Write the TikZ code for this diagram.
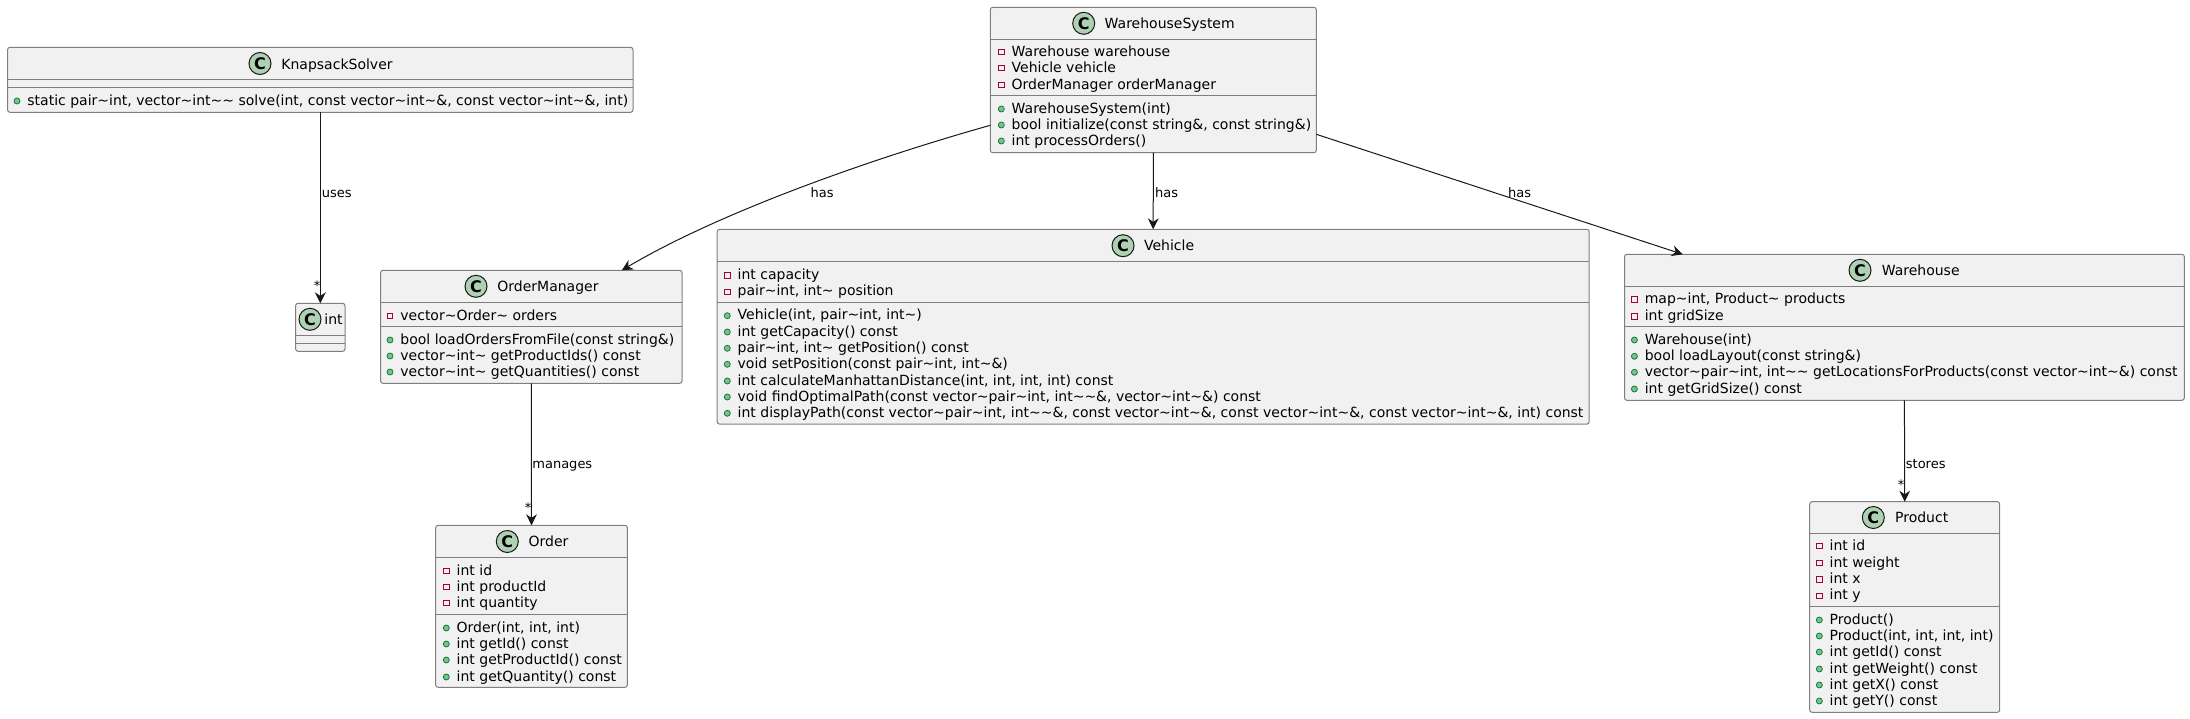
\documentclass[tikz,border=0pt]{standalone}
\usepackage{fontspec}
\setmainfont{DejaVu Sans}
\usetikzlibrary{arrows.meta}

\definecolor{boxfill}{HTML}{F1F1F1}
\definecolor{boxline}{HTML}{7F7F7F}
\definecolor{edgeline}{HTML}{181818}
\definecolor{spotfill}{HTML}{ADD1B2}
\definecolor{privline}{HTML}{A80036}
\definecolor{pubfill}{HTML}{84BE84}
\definecolor{publine}{HTML}{038048}

\tikzset{
  classbox/.style={draw=boxline, fill=boxfill, line width=0.5pt, rounded corners=1.2pt, inner sep=0pt, outer sep=0pt},
  splitline/.style={draw=boxline, line width=0.5pt},
  spot/.style={circle, draw=edgeline, fill=spotfill, line width=0.5pt, minimum size=11pt, inner sep=0pt, font=\fontsize{8}{8}\selectfont\bfseries},
  classname/.style={anchor=base west, inner sep=0pt, font=\fontsize{7}{8}\selectfont},
  member/.style={anchor=base west, inner sep=0pt, font=\fontsize{7}{8}\selectfont},
  privmark/.style={rectangle, draw=privline, fill=boxfill, line width=0.4pt, minimum size=2.8pt, inner sep=0pt},
  pubmark/.style={circle, draw=publine, fill=pubfill, line width=0.4pt, minimum size=3pt, inner sep=0pt},
  relation/.style={draw=edgeline, line width=0.5pt, -{Stealth[length=5.5pt, width=5.4pt, inset=1.8pt]}},
  edgelabel/.style={anchor=base west, inner sep=0pt, font=\fontsize{6.5}{8}\selectfont},
  multi/.style={inner sep=0pt, font=\fontsize{6.5}{8}\selectfont}
}

\newcommand{\tld}{\textasciitilde{}}
% name, text left, row centre, text
\newcommand{\privrow}[4]{
  \node[privmark] (#1m) at (#2-10,#3+1) {};
  \node[member] (#1) at (#2,#3+5) {#4};
}
\newcommand{\pubrow}[4]{
  \node[pubmark] (#1m) at (#2-10,#3+1) {};
  \node[member] (#1) at (#2,#3+5) {#4};
}

\begin{document}
\begin{tikzpicture}[x=0.5pt, y=-0.5pt]
    \useasboundingbox (0,0) rectangle (2190,718);

    % KnapsackSolver
    \node[classbox, minimum width=312.7pt, minimum height=32.5pt] (solver) at (320.3,79.8) {};
    \draw[splitline] (solver.west |- 0,79.3) -- (solver.east |- 0,79.3);
    \draw[splitline] (solver.west |- 0,87.3) -- (solver.east |- 0,87.3);
    \node[spot] (solverC) at (260,63.5) {C};
    \node[classname] (solverT) at (281,69) {KnapsackSolver};
    \pubrow{solverA}{27}{100}{static pair\tld int, vector\tld int\tld\tld\ solve(int, const vector\tld int\tld\&, const vector\tld int\tld\&, int)}

    % int
    \node[classbox, minimum width=24.7pt, minimum height=24pt] (intbox) at (320.3,327.3) {};
    \draw[splitline] (intbox.west |- 0,335.3) -- (intbox.east |- 0,335.3);
    \draw[splitline] (intbox.west |- 0,343.3) -- (intbox.east |- 0,343.3);
    \node[spot] (intC) at (310,319.3) {C};
    \node[classname] (intT) at (324,324.3) {int};

    % OrderManager
    \node[classbox, minimum width=150.7pt, minimum height=56.5pt] (manager) at (531.3,326.8) {};
    \draw[splitline] (manager.west |- 0,302.3) -- (manager.east |- 0,302.3);
    \draw[splitline] (manager.west |- 0,326.3) -- (manager.east |- 0,326.3);
    \node[spot] (managerC) at (476,286.3) {C};
    \node[classname] (managerT) at (497,291.5) {OrderManager};
    \privrow{managerA}{400}{315}{vector\tld Order\tld\ orders}
    \pubrow{managerB}{400}{339}{bool loadOrdersFromFile(const string\&)}
    \pubrow{managerD}{400}{355}{vector\tld int\tld\ getProductIds() const}
    \pubrow{managerE}{400}{371}{vector\tld int\tld\ getQuantities() const}

    % Order
    \node[classbox, minimum width=95.8pt, minimum height=81pt] (order) at (531.5,606.3) {};
    \draw[splitline] (order.west |- 0,557.3) -- (order.east |- 0,557.3);
    \draw[splitline] (order.west |- 0,614.3) -- (order.east |- 0,614.3);
    \node[spot] (orderC) at (507.3,541.5) {C};
    \node[classname] (orderT) at (528.3,546.5) {Order};
    \privrow{orderA}{456.3}{570}{int id}
    \privrow{orderB}{456.3}{586}{int productId}
    \privrow{orderD}{456.3}{602}{int quantity}
    \pubrow{orderE}{456.3}{627}{Order(int, int, int)}
    \pubrow{orderF}{456.3}{643}{int getId() const}
    \pubrow{orderG}{456.3}{659}{int getProductId() const}
    \pubrow{orderH}{456.3}{676}{int getQuantity() const}

    % WarehouseSystem
    \node[classbox, minimum width=163pt, minimum height=72.7pt] (system) at (1153.3,80) {};
    \draw[splitline] (system.west |- 0,39.3) -- (system.east |- 0,39.3);
    \draw[splitline] (system.west |- 0,95.3) -- (system.east |- 0,95.3);
    \node[spot] (systemC) at (1083.7,23.3) {C};
    \node[classname] (systemT) at (1104.3,28.5) {WarehouseSystem};
    \privrow{systemA}{1011.3}{51}{Warehouse warehouse}
    \privrow{systemB}{1011.3}{67}{Vehicle vehicle}
    \privrow{systemD}{1011.3}{84}{OrderManager orderManager}
    \pubrow{systemE}{1011.3}{108}{WarehouseSystem(int)}
    \pubrow{systemF}{1011.3}{124}{bool initialize(const string\&, const string\&)}
    \pubrow{systemG}{1011.3}{140}{int processOrders()}

    % Vehicle
    \node[classbox, minimum width=436pt, minimum height=97.4pt] (vehicle) at (1153.2,326.7) {};
    \draw[splitline] (vehicle.west |- 0,261.7) -- (vehicle.east |- 0,261.7);
    \draw[splitline] (vehicle.west |- 0,302.3) -- (vehicle.east |- 0,302.3);
    \node[spot] (vehicleC) at (1123,245.7) {C};
    \node[classname] (vehicleT) at (1143.7,250.7) {Vehicle};
    \privrow{vehicleA}{737.3}{274.3}{int capacity}
    \privrow{vehicleB}{737.3}{290.7}{pair\tld int, int\tld\ position}
    \pubrow{vehicleD}{737.3}{314.7}{Vehicle(int, pair\tld int, int\tld)}
    \pubrow{vehicleE}{737.3}{331}{int getCapacity() const}
    \pubrow{vehicleF}{737.3}{347.3}{pair\tld int, int\tld\ getPosition() const}
    \pubrow{vehicleG}{737.3}{363.3}{void setPosition(const pair\tld int, int\tld\&)}
    \pubrow{vehicleH}{737.3}{380}{int calculateManhattanDistance(int, int, int, int) const}
    \pubrow{vehicleI}{737.3}{396}{void findOptimalPath(const vector\tld pair\tld int, int\tld\tld\&, vector\tld int\tld\&) const}
    \pubrow{vehicleJ}{737.3}{412.3}{int displayPath(const vector\tld pair\tld int, int\tld\tld\&, const vector\tld int\tld\&, const vector\tld int\tld\&, const vector\tld int\tld\&, int) const}

    % Warehouse
    \node[classbox, minimum width=279.9pt, minimum height=73pt] (warehouse) at (1904.4,327.3) {};
    \draw[splitline] (warehouse.west |- 0,286.3) -- (warehouse.east |- 0,286.3);
    \draw[splitline] (warehouse.west |- 0,326.7) -- (warehouse.east |- 0,326.7);
    \node[spot] (warehouseC) at (1860,270.3) {C};
    \node[classname] (warehouseT) at (1881.4,275.3) {Warehouse};
    \privrow{warehouseA}{1644.4}{298.3}{map\tld int, Product\tld\ products}
    \privrow{warehouseB}{1644.4}{315.3}{int gridSize}
    \pubrow{warehouseD}{1644.4}{339}{Warehouse(int)}
    \pubrow{warehouseE}{1644.4}{355.3}{bool loadLayout(const string\&)}
    \pubrow{warehouseF}{1644.4}{371.3}{vector\tld pair\tld int, int\tld\tld\ getLocationsForProducts(const vector\tld int\tld\&) const}
    \pubrow{warehouseG}{1644.4}{388}{int getGridSize() const}

    % Product
    \node[classbox, minimum width=95pt, minimum height=105.3pt] (product) at (1904.7,607) {};
    \draw[splitline] (product.west |- 0,533.3) -- (product.east |- 0,533.3);
    \draw[splitline] (product.west |- 0,606.7) -- (product.east |- 0,606.7);
    \node[spot] (productC) at (1873.3,517.5) {C};
    \node[classname] (productT) at (1894.7,522.5) {Product};
    \privrow{productA}{1829.3}{545}{int id}
    \privrow{productB}{1829.3}{562}{int weight}
    \privrow{productD}{1829.3}{578.3}{int x}
    \privrow{productE}{1829.3}{594.7}{int y}
    \pubrow{productF}{1829.3}{619}{Product()}
    \pubrow{productG}{1829.3}{635}{Product(int, int, int, int)}
    \pubrow{productH}{1829.3}{651}{int getId() const}
    \pubrow{productI}{1829.3}{668}{int getWeight() const}
    \pubrow{productJ}{1829.3}{684}{int getX() const}
    \pubrow{productK}{1829.3}{700}{int getY() const}

    % Relations
    \draw[relation] (solver.south) -- (intbox.north);
    \node[edgelabel] (usesL) at (321.5,197) {uses};
    \node[multi] (usesM) at (317,286) {*};

    \draw[relation] (manager.south) -- (order.north);
    \node[edgelabel] (managesL) at (532,468) {manages};
    \node[multi] (managesM) at (528,508) {*};

    \draw[relation] (warehouse.south) -- (product.north);
    \node[edgelabel] (storesL) at (1905.5,468) {stores};
    \node[multi] (storesM) at (1901,485) {*};

    \draw[relation] ([yshift=-22.65pt]system.west) .. controls (860,162) and (715,215) .. ([xshift=-30.1pt]manager.north east);
    \node[edgelabel] (hasA) at (810.3,197) {has};

    \draw[relation] (system.south) -- (vehicle.north);
    \node[edgelabel] (hasB) at (1154.7,197) {has};

    \draw[relation] ([yshift=-27.15pt]system.east) -- ([xshift=29.15pt]warehouse.north west);
    \node[edgelabel] (hasD) at (1507.7,197) {has};
\end{tikzpicture}
\end{document}
